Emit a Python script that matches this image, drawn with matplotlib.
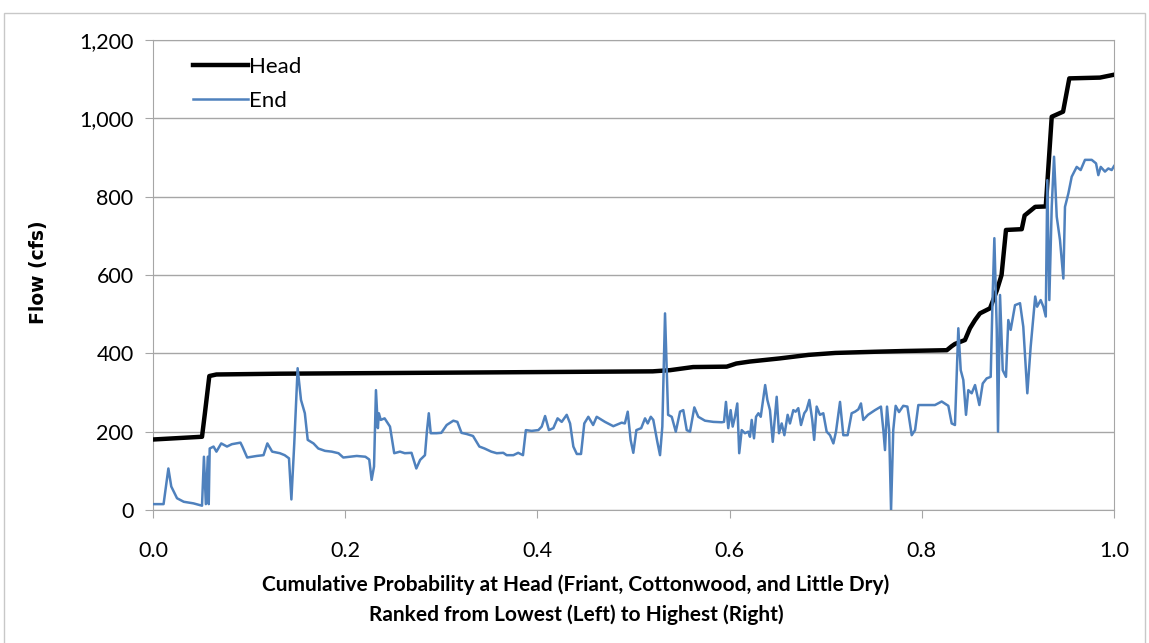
import matplotlib.pyplot as plt
from matplotlib.patches import Rectangle

# Head flow, ranked (black line)
head_x = [0.0, 0.051, 0.054, 0.0586, 0.066, 0.132, 0.262, 0.392, 0.52, 0.538, 0.562, 0.597,
          0.607, 0.621, 0.652, 0.682, 0.71, 0.751, 0.7825, 0.826, 0.831, 0.8345, 0.8449, 0.8501,
          0.8554, 0.8605, 0.871, 0.878, 0.883, 0.8876, 0.904, 0.907, 0.914, 0.918, 0.929, 0.9352,
          0.947, 0.9535, 0.9854, 0.9993]
head_y = [180, 187, 247, 342, 346, 348, 350, 352, 354, 357, 365, 366,
          374, 379, 387, 396, 401, 404, 406, 408, 418, 424, 434, 464,
          485, 502, 515, 560, 600, 715, 717, 752, 766, 774, 775, 1004,
          1017, 1102, 1104, 1111]

# End flow at the same ranks (blue line)
end_x = [0.000, 0.011, 0.016, 0.019, 0.025, 0.032, 0.042, 0.051, 0.053, 0.055, 0.057, 0.058,
         0.059, 0.063, 0.066, 0.071, 0.077, 0.082, 0.091, 0.093, 0.098, 0.108, 0.115, 0.119,
         0.124, 0.132, 0.137, 0.1415, 0.144, 0.147, 0.1505, 0.154, 0.158, 0.161, 0.167, 0.172,
         0.179, 0.186, 0.193, 0.198, 0.205, 0.212, 0.221, 0.225, 0.2275, 0.230, 0.232, 0.234,
         0.235, 0.237, 0.241, 0.2466, 0.251, 0.257, 0.262, 0.269, 0.274, 0.278, 0.283, 0.285,
         0.287, 0.289, 0.295, 0.300, 0.3056, 0.3125, 0.3167, 0.321, 0.3264, 0.333, 0.3396, 0.345,
         0.352, 0.3577, 0.3645, 0.368, 0.375, 0.380, 0.385, 0.388, 0.394, 0.401, 0.4045, 0.408,
         0.412, 0.4166, 0.421, 0.4253, 0.4305, 0.434, 0.4374, 0.441, 0.4454, 0.4488, 0.453, 0.458,
         0.4617, 0.4703, 0.479, 0.4877, 0.491, 0.494, 0.497, 0.4998, 0.503, 0.508, 0.512, 0.5148,
         0.518, 0.5206, 0.5248, 0.5276, 0.530, 0.5328, 0.5345, 0.536, 0.5398, 0.544, 0.5484, 0.5518,
         0.5554, 0.5588, 0.5633, 0.5674, 0.5744, 0.583, 0.5918, 0.5942, 0.5962, 0.5986, 0.6011, 0.6032,
         0.6056, 0.608, 0.610, 0.6126, 0.616, 0.6195, 0.6212, 0.623, 0.6254, 0.6275, 0.630, 0.6324,
         0.637, 0.6393, 0.642, 0.6449, 0.649, 0.6514, 0.6542, 0.657, 0.6604, 0.6628, 0.6663, 0.6687,
         0.6715, 0.6743, 0.6777, 0.680, 0.683, 0.686, 0.688, 0.6906, 0.694, 0.6975, 0.701, 0.7045,
         0.708, 0.7107, 0.7149, 0.7183, 0.7228, 0.727, 0.7305, 0.734, 0.7367, 0.7391, 0.744, 0.7513,
         0.7575, 0.760, 0.7617, 0.7638, 0.766, 0.768, 0.7703, 0.7728, 0.7763, 0.7807, 0.785, 0.7895,
         0.793, 0.7964, 0.805, 0.8137, 0.8207, 0.8276, 0.8311, 0.8345, 0.838, 0.8405, 0.8432, 0.846,
         0.8484, 0.8519, 0.8554, 0.8599, 0.8634, 0.8675, 0.8717, 0.8737, 0.8755, 0.878, 0.8793, 0.8814,
         0.8842, 0.8876, 0.890, 0.8925, 0.897, 0.9022, 0.9056, 0.9098, 0.9133, 0.918, 0.920, 0.9237,
         0.9265, 0.929, 0.9306, 0.9327, 0.9352, 0.9376, 0.9404, 0.9438, 0.9473, 0.949, 0.9525, 0.956,
         0.9612, 0.9653, 0.9698, 0.9768, 0.9813, 0.9837, 0.9862, 0.9906, 0.9941, 0.9976, 1.0]
end_y = [15, 15, 106, 60, 30, 21, 17, 11, 136, 15, 136, 15,
         157, 162, 149, 170, 162, 168, 172, 162, 134, 138, 140, 170,
         149, 145, 140, 132, 27, 170, 362, 281, 247, 179, 170, 157,
         151, 149, 145, 134, 136, 138, 136, 129, 77, 111, 306, 209,
         247, 230, 234, 213, 145, 149, 145, 146, 106, 128, 140, 200,
         247, 196, 196, 197, 217, 228, 225, 197, 194, 189, 162, 157,
         149, 145, 146, 140, 140, 146, 140, 204, 202, 204, 213, 240,
         204, 209, 234, 225, 243, 221, 162, 143, 143, 221, 238, 217,
         238, 225, 214, 223, 221, 251, 179, 146, 204, 209, 234, 221,
         238, 230, 174, 140, 213, 502, 366, 243, 238, 200, 251, 255,
         204, 200, 262, 238, 228, 225, 224, 225, 276, 209, 255, 213,
         238, 272, 145, 204, 196, 200, 187, 230, 183, 238, 247, 238,
         319, 281, 255, 174, 289, 196, 221, 191, 243, 221, 255, 251,
         260, 217, 247, 255, 281, 230, 179, 264, 243, 247, 200, 191,
         170, 200, 276, 191, 191, 247, 251, 257, 272, 230, 243, 255,
         264, 204, 153, 264, 204, 0, 204, 266, 250, 266, 264, 191,
         204, 268, 268, 268, 277, 266, 221, 217, 464, 357, 332, 243,
         306, 298, 319, 268, 323, 336, 340, 545, 694, 460, 200, 549,
         357, 340, 485, 460, 523, 528, 468, 298, 417, 545, 519, 536,
         519, 494, 842, 536, 774, 902, 749, 689, 591, 774, 808, 851,
         876, 868, 894, 894, 885, 855, 876, 864, 872, 868, 878]

plt.rcParams['font.family'] = ['Lato', 'DejaVu Sans']

fig = plt.figure(figsize=(11.49, 6.43), dpi=100)
ax = fig.add_axes([153/1149, 1 - 510/643, (1114-153)/1149, (510-40)/643])

ax.plot(head_x, head_y, color='black', linewidth=3.2, label='Head', zorder=3)
ax.plot(end_x, end_y, color='#4F81BD', linewidth=1.8, label='End', zorder=4)

ax.set_xlim(0, 1.0)
ax.set_ylim(0, 1200)
ax.set_xticks([0.0, 0.2, 0.4, 0.6, 0.8, 1.0])
ax.set_xticklabels(['0.0', '0.2', '0.4', '0.6', '0.8', '1.0'])
ax.set_yticks([0, 200, 400, 600, 800, 1000, 1200])
ax.set_yticklabels(['0', '200', '400', '600', '800', '1,000', '1,200'])
ax.yaxis.grid(True, color='#a6a6a6', linewidth=1)
ax.set_axisbelow(True)
for s in ax.spines.values():
    s.set_color('#a6a6a6')
ax.tick_params(axis='both', colors='#a6a6a6', labelcolor='black', length=6, direction='out')
ax.tick_params(axis='x', pad=16)
ax.tick_params(axis='y', pad=8)
for lab in ax.get_xticklabels() + ax.get_yticklabels():
    lab.set_fontfamily(['Liberation Sans Narrow', 'Lato'])
    lab.set_fontsize(15.5)

ax.set_ylabel('Flow (cfs)', fontsize=13.5, fontweight='bold', family='DejaVu Sans')
ax.yaxis.set_label_coords(-0.109, 0.507)
ax.set_xlabel('Cumulative Probability at Head (Friant, Cottonwood, and Little Dry)\n'
              'Ranked from Lowest (Left) to Highest (Right)',
              fontsize=15, fontweight='bold', linespacing=1.55)
ax.xaxis.set_label_coords(0.44, -0.137)
ax.xaxis.label.set_verticalalignment('top')

ax.legend(loc='upper left', frameon=False, fontsize=16, handlelength=2.5, handletextpad=0.05,
          borderaxespad=0.35, bbox_to_anchor=(0.024, 1.0), labelspacing=0.65)

# light outer frame around the chart
fig.patches.append(Rectangle((4/1149, -0.01), 1141/1149, 1 - 13/643 + 0.01,
                             transform=fig.transFigure, fill=False,
                             edgecolor='#c8c8c8', linewidth=1))

fig.savefig('out.png', dpi=100)
